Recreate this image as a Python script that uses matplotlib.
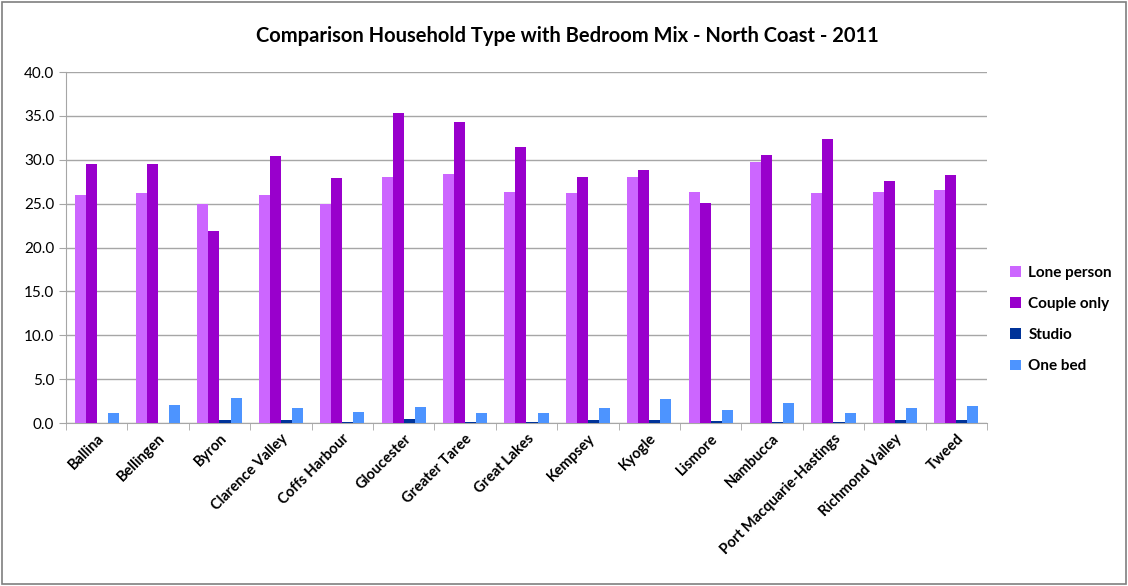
import numpy as np
import matplotlib.pyplot as plt
from matplotlib.ticker import FormatStrFormatter

plt.rcParams['font.family'] = ['Lato', 'DejaVu Sans']

# Local government areas
areas = ['Ballina', 'Bellingen', 'Byron', 'Clarence Valley', 'Coffs Harbour',
         'Gloucester', 'Greater Taree', 'Great Lakes', 'Kempsey', 'Kyogle',
         'Lismore', 'Nambucca', 'Port Macquarie-Hastings', 'Richmond Valley', 'Tweed']

# Percentages by household type / bedroom mix
lone_person = [26.0, 26.2, 25.0, 26.0, 25.0, 28.1, 28.4, 26.3, 26.2, 28.1, 26.3, 29.7, 26.2, 26.3, 26.6]
couple_only = [29.5, 29.5, 21.9, 30.4, 27.9, 35.3, 34.3, 31.5, 28.1, 28.8, 25.1, 30.5, 32.4, 27.6, 28.3]
studio = [0.05, 0.05, 0.4, 0.4, 0.1, 0.5, 0.1, 0.1, 0.3, 0.4, 0.25, 0.1, 0.1, 0.3, 0.3]
one_bed = [1.1, 2.05, 2.9, 1.67, 1.3, 1.86, 1.1, 1.17, 1.67, 2.73, 1.45, 2.3, 1.14, 1.67, 2.0]

series = [('Lone person', lone_person, '#cc66ff'),
          ('Couple only', couple_only, '#9900cc'),
          ('Studio', studio, '#003399'),
          ('One bed', one_bed, '#4d94ff')]

fig = plt.figure(figsize=(11.28, 5.86), dpi=100)
ax = fig.add_axes([0.0585, 0.278, 0.8165, 0.599])

x = np.arange(len(areas))
w = 0.18
for i, (name, vals, col) in enumerate(series):
    ax.bar(x + (i - 1.5) * w, vals, width=w, color=col, label=name, zorder=3)

ax.set_xlim(-0.5, len(areas) - 0.5)
ax.set_ylim(0, 40)
ax.set_yticks(np.arange(0, 41, 5))
ax.yaxis.set_major_formatter(FormatStrFormatter('%.1f'))
ax.grid(axis='y', color='#a6a6a6', lw=1, zorder=0)

for s in ['top', 'right']:
    ax.spines[s].set_visible(False)
for s in ['left', 'bottom']:
    ax.spines[s].set_color('#a6a6a6')

ax.set_xticks(x)
ax.set_xticklabels(areas, rotation=45, ha='right', rotation_mode='anchor',
                   fontsize=10.5, fontweight='bold')
ax.tick_params(axis='x', length=0, pad=6)
ax.set_xticks(np.arange(-0.5, len(areas), 1), minor=True)
ax.tick_params(axis='x', which='minor', length=5, color='#a6a6a6')
ax.tick_params(axis='y', length=5, color='#a6a6a6', labelsize=11)

fig.suptitle('Comparison Household Type with Bedroom Mix - North Coast - 2011',
             x=0.503, y=0.955, fontsize=14.5, fontweight='bold')

leg = ax.legend(loc='center left', bbox_to_anchor=(1.01, 0.295), frameon=False,
                handlelength=0.7, handleheight=0.7, handletextpad=0.5,
                labelspacing=1.12, prop={'weight': 'bold', 'size': 11})

# chart border
fig.patches.append(plt.Rectangle((0.002, 0.003), 0.996, 0.994, transform=fig.transFigure,
                                 fill=False, edgecolor='#7f7f7f', lw=1.2))

fig.savefig('out.png', dpi=100)
